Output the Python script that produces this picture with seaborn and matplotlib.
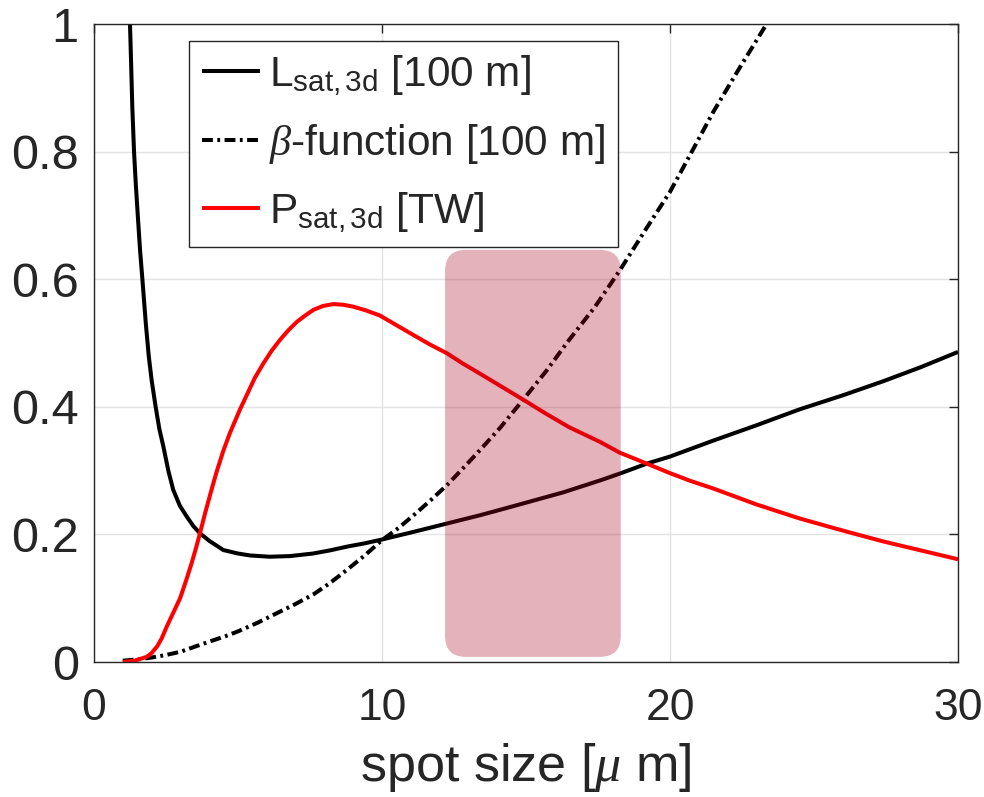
import numpy as np
import pandas as pd
import matplotlib
matplotlib.use("Agg")
import matplotlib.pyplot as plt
from matplotlib.patches import FancyBboxPatch
from matplotlib.lines import Line2D
import seaborn as sns

# Saturation length L_sat,3d [100 m] versus spot size [um]
spot_L = [1.25, 1.285, 1.33, 1.39, 1.45, 1.52, 1.60, 1.68, 1.80, 1.90, 2.00, 2.14,
          2.27, 2.41, 2.58, 2.75, 2.98, 3.22, 3.45, 3.68, 4.0, 4.49, 5.0, 5.42,
          6.1, 6.8, 7.6, 8.2, 8.8, 9.4, 10.0, 11.1, 12.25, 13.4, 14.3, 15.1,
          16.3, 17.6, 18.3, 19.2, 20.0, 21.5, 23.0, 24.5, 26.0, 27.4, 28.7, 30.0]
L_sat = [1.00, 0.944, 0.87, 0.80, 0.75, 0.70, 0.645, 0.60, 0.53, 0.48, 0.442, 0.40,
         0.365, 0.3375, 0.300, 0.270, 0.245, 0.228, 0.213, 0.2017, 0.190, 0.1755, 0.170, 0.167,
         0.165, 0.166, 0.170, 0.175, 0.181, 0.186, 0.192, 0.204, 0.217, 0.230, 0.241, 0.251,
         0.266, 0.285, 0.296, 0.311, 0.322, 0.347, 0.371, 0.396, 0.418, 0.440, 0.462, 0.486]

# Beta function [100 m]
spot_beta = [1.0, 1.5, 2.0, 2.5, 3.0, 3.5, 4.14, 4.6, 5.0, 5.7, 6.46, 7.0, 7.62,
             8.2, 8.77, 9.4, 10.0, 10.6, 11.2, 11.7, 12.25, 12.8, 13.4, 14.1, 14.9,
             15.7, 16.5, 17.4, 18.26, 19.1, 20.0, 20.7, 21.5, 22.4, 23.3, 24.0]
beta_fn = [0.002, 0.004, 0.007, 0.011, 0.016, 0.024, 0.034, 0.041, 0.048, 0.062, 0.079,
           0.091, 0.106, 0.124, 0.144, 0.167, 0.191, 0.211, 0.234, 0.254, 0.277, 0.303,
           0.332, 0.367, 0.411, 0.456, 0.505, 0.557, 0.614, 0.674, 0.737, 0.795, 0.862,
           0.930, 0.996, 1.05]

# Saturation power P_sat,3d [TW]
spot_P = [1.0, 1.4, 1.83, 2.0, 2.2, 2.35, 2.52, 2.75, 2.99, 3.2, 3.39, 3.55, 3.68,
          3.85, 4.08, 4.25, 4.49, 4.72, 5.07, 5.30, 5.58, 5.88, 6.17, 6.46, 6.75,
          7.04, 7.33, 7.62, 7.95, 8.31, 8.65, 9.0, 9.45, 9.93, 10.5, 11.09, 11.65,
          12.25, 12.8, 13.4, 14.1, 14.91, 15.7, 16.5, 17.57, 18.26, 19.19, 20.0,
          20.7, 21.5, 23.0, 24.5, 26.0, 27.4, 28.7, 30.0]
P_sat = [0.0, 0.002, 0.008, 0.014, 0.025, 0.037, 0.055, 0.077, 0.100, 0.128, 0.155, 0.180,
         0.202, 0.232, 0.270, 0.297, 0.331, 0.359, 0.396, 0.418, 0.445, 0.468, 0.488, 0.505,
         0.520, 0.533, 0.543, 0.552, 0.558, 0.561, 0.560, 0.557, 0.551, 0.543, 0.528, 0.5125,
         0.498, 0.484, 0.468, 0.452, 0.433, 0.411, 0.389, 0.368, 0.345, 0.328, 0.311, 0.296,
         0.284, 0.272, 0.247, 0.225, 0.206, 0.189, 0.175, 0.161]

# Highlighted spot-size window
band_x = [12.19, 18.29]
band_y = [0.008, 0.646]

labels = [r"L$_{\rm sat,3d}$ [100 m]", r"$\beta$-function [100 m]", r"P$_{\rm sat,3d}$ [TW]"]
xticks = [0, 10, 20, 30]
yticks = [0, 0.2, 0.4, 0.6, 0.8, 1.0]
ytick_labels = ["0", "0.2", "0.4", "0.6", "0.8", "1"]

sns.set_theme(style="white")
plt.rcParams["font.family"] = ["Liberation Sans", "DejaVu Sans"]
plt.rcParams["mathtext.fontset"] = "custom"
plt.rcParams["mathtext.rm"] = "Liberation Sans"
plt.rcParams["mathtext.it"] = "Liberation Serif:italic"
plt.rcParams["mathtext.bf"] = "Liberation Sans:bold"
plt.rcParams["lines.solid_capstyle"] = "butt"

dark = "#262626"
lw = 2.9
dd = (2.7, 1.1, 0.7, 1.1)

fig = plt.figure(figsize=(9.84, 7.97), dpi=100)
ax = fig.add_axes([94 / 984, 1 - 662 / 797, 864 / 984, 638 / 797])

df_L = pd.DataFrame({"x": spot_L, "y": L_sat})
df_b = pd.DataFrame({"x": spot_beta, "y": beta_fn})
df_P = pd.DataFrame({"x": spot_P, "y": P_sat})

sns.lineplot(data=df_L, x="x", y="y", ax=ax, color="black", lw=lw, sort=False,
             estimator=None, zorder=3)
sns.lineplot(data=df_b, x="x", y="y", ax=ax, color="black", lw=lw, sort=False,
             estimator=None, zorder=3)
ax.lines[-1].set_dashes(dd)
sns.lineplot(data=df_P, x="x", y="y", ax=ax, color="#ff0000", lw=lw, sort=False,
             estimator=None, zorder=3)
for ln in ax.lines:
    ln.set_solid_joinstyle("round")
    ln.set_dash_joinstyle("round")

# rounded translucent band over the curves
aspect = 28.8 / 638
band = FancyBboxPatch((band_x[0], band_y[0]), band_x[1] - band_x[0], band_y[1] - band_y[0],
                      boxstyle="round,pad=0,rounding_size=0.73", mutation_aspect=aspect,
                      facecolor=(0.64, 0.0, 0.12), alpha=0.3, edgecolor="none", zorder=4)
ax.add_patch(band)

ax.set_xlim(0, 30)
ax.set_ylim(0, 1)
ax.set_xticks(xticks)
ax.set_xticklabels([str(t) for t in xticks])
ax.set_yticks(yticks)
ax.set_yticklabels(ytick_labels)
ax.grid(True, color="#e3e3e3", lw=1.0)
ax.set_axisbelow(True)
for s in ax.spines.values():
    s.set_color(dark)
    s.set_linewidth(1.0)
    s.set_visible(True)
    s.set_zorder(6)
ax.tick_params(direction="in", length=6.5, width=1.0, colors=dark,
               top=True, right=True, labelcolor=dark)
ax.tick_params(axis="y", pad=11, labelsize=35)
ax.tick_params(axis="x", pad=19, labelsize=32)
ax.set_xlabel(r"spot size [$\mu$ m]", fontsize=37.5, color=dark, labelpad=8)
ax.set_ylabel("")

handles = [Line2D([], [], color="black", lw=lw),
           Line2D([], [], color="black", lw=lw, dashes=dd),
           Line2D([], [], color="#ff0000", lw=lw)]
leg = ax.legend(handles, labels, loc="upper left", bbox_to_anchor=(0.1103, 0.9738),
                borderaxespad=0, fontsize=30.5, frameon=True, fancybox=False,
                framealpha=1, edgecolor=dark, handlelength=1.37, handletextpad=0.2,
                borderpad=0.3, labelspacing=0.57)
leg.get_frame().set_linewidth(1.0)
leg.set_zorder(10)

fig.savefig("out.png", dpi=100)
